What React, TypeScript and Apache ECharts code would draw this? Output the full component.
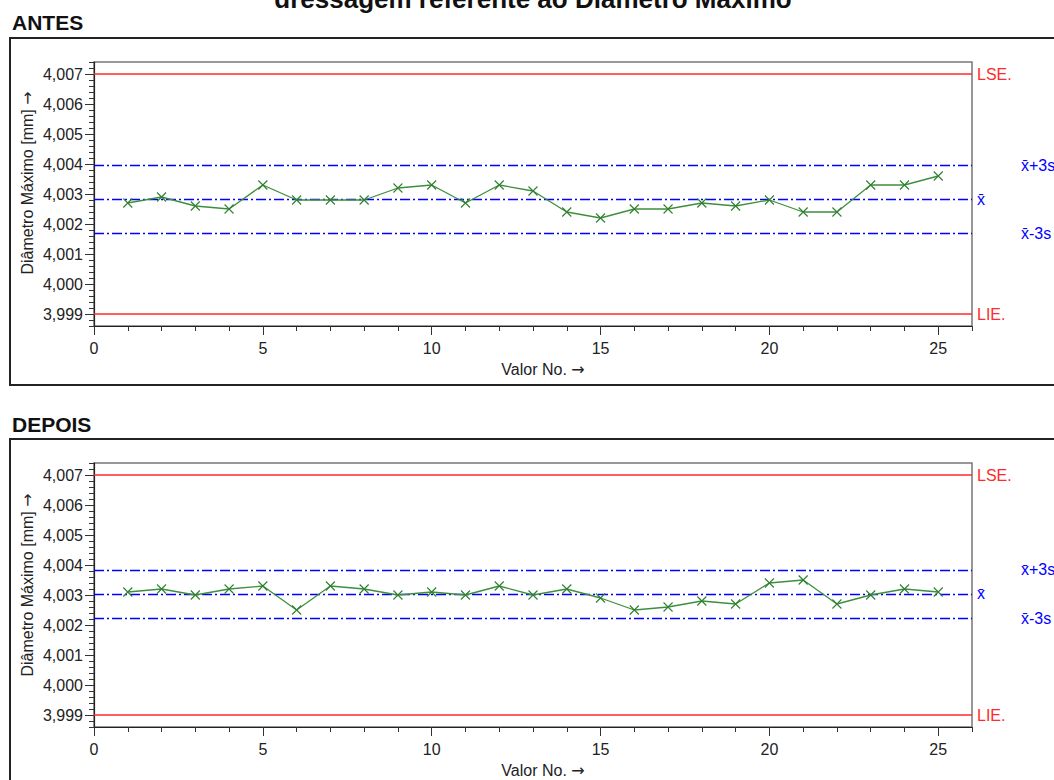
import React, { useEffect, useRef } from "react";
import * as echarts from "echarts";

const valorNo = [1, 2, 3, 4, 5, 6, 7, 8, 9, 10, 11, 12, 13, 14, 15, 16, 17, 18, 19, 20, 21, 22, 23, 24, 25];
const antes = [4.0027, 4.0029, 4.0026, 4.0025, 4.0033, 4.0028, 4.0028, 4.0028, 4.0032, 4.0033, 4.0027, 4.0033, 4.0031, 4.0024, 4.0022, 4.0025, 4.0025, 4.0027, 4.0026, 4.0028, 4.0024, 4.0024, 4.0033, 4.0033, 4.0036];
const depois = [4.0031, 4.0032, 4.0030, 4.0032, 4.0033, 4.0025, 4.0033, 4.0032, 4.0030, 4.0031, 4.0030, 4.0033, 4.0030, 4.0032, 4.0029, 4.0025, 4.0026, 4.0028, 4.0027, 4.0034, 4.0035, 4.0027, 4.0030, 4.0032, 4.0031];
const LSE = 4.007;
const LIE = 3.999;
const antesLimits = { mean: 4.00282, ucl: 4.00395, lcl: 4.00169 };
const depoisLimits = { mean: 4.00304, ucl: 4.00384, lcl: 4.00222 };
const yLabelValues = [3.999, 4.0, 4.001, 4.002, 4.003, 4.004, 4.005, 4.006, 4.007];
const xLabelValues = [0, 5, 10, 15, 20, 25];

const FONT = "'Liberation Sans', Arial, sans-serif";
const RED = "#ff2a2a";
const BLUE = "#0000ff";
const GREEN = "#3d8f3d";

function buildPanel(gi: number, values: number[], lim: { mean: number; ucl: number; lcl: number }) {
  const xA = gi * 2;
  const yA = gi * 2;
  const lbl = (text: string, color: string, distance: number) => ({
    show: true,
    position: "end",
    formatter: text,
    color,
    fontSize: 16,
    fontFamily: FONT,
    distance,
  });
  return {
    type: "line",
    xAxisIndex: xA,
    yAxisIndex: yA,
    data: valorNo.map((x, i) => [x, values[i]]),
    symbol: "path://M0,0L10,10M0,10L10,0",
    symbolSize: 9,
    showSymbol: true,
    itemStyle: { color: "transparent", borderColor: "#2f7f2f", borderWidth: 1.1 },
    lineStyle: { color: GREEN, width: 1.3 },
    z: 5,
    markLine: {
      silent: true,
      symbol: "none",
      precision: 6,
      animation: false,
      data: [
        { yAxis: LSE, lineStyle: { color: RED, width: 1.5, type: "solid" }, label: lbl("LSE.", RED, 5) },
        { yAxis: LIE, lineStyle: { color: RED, width: 1.5, type: "solid" }, label: lbl("LIE.", RED, 5) },
        { yAxis: lim.ucl, lineStyle: { color: BLUE, width: 1.3, type: [10, 3, 2, 3] }, label: lbl("x̄+3s", BLUE, 49) },
        { yAxis: lim.mean, lineStyle: { color: BLUE, width: 1.3, type: [10, 3, 2, 3] }, label: lbl("x̄", BLUE, 5) },
        { yAxis: lim.lcl, lineStyle: { color: BLUE, width: 1.3, type: [10, 3, 2, 3] }, label: lbl("x̄-3s", BLUE, 49) },
      ],
    },
  };
}

function yAxes(gi: number) {
  const base = { type: "value", gridIndex: gi, min: 3.9986, max: 4.0074, position: "left", splitLine: { show: false } };
  return [
    {
      ...base,
      interval: 0.0002,
      axisLine: { show: true, lineStyle: { color: "#222", width: 1.2 } },
      axisTick: { show: true, length: 5, inside: false, lineStyle: { color: "#333" } },
      axisLabel: {
        show: true,
        customValues: yLabelValues,
        margin: 11,
        color: "#222",
        fontSize: 16,
        fontFamily: FONT,
        formatter: (v: number) => v.toFixed(3).replace(".", ","),
      },
    },
    {
      ...base,
      interval: 0.0002,
      axisLine: { show: false },
      axisTick: { show: true, length: 9, customValues: yLabelValues, lineStyle: { color: "#333" } },
      axisLabel: { show: false },
    },
  ];
}

function xAxes(gi: number) {
  const base = { type: "value", gridIndex: gi, min: 0, max: 26, interval: 1, position: "bottom", splitLine: { show: false } };
  return [
    {
      ...base,
      axisLine: { show: true, onZero: false, lineStyle: { color: "#222", width: 1.2 } },
      axisTick: { show: true, length: 5, lineStyle: { color: "#333" } },
      axisLabel: {
        show: true,
        customValues: xLabelValues,
        margin: 14,
        color: "#222",
        fontSize: 16,
        fontFamily: FONT,
      },
    },
    {
      ...base,
      axisLine: { show: false, onZero: false },
      axisTick: { show: true, length: 9, customValues: xLabelValues, lineStyle: { color: "#333" } },
      axisLabel: { show: false },
    },
  ];
}

const arrowRich = {
  t: { fontSize: 16, fontFamily: FONT, fill: "#222", color: "#222" },
  a: { fontSize: 16, fontFamily: "'DejaVu Sans', sans-serif", fill: "#222", color: "#222" },
};

export default function App() {
  const ref = useRef<HTMLDivElement>(null);
  useEffect(() => {
    if (!ref.current) return;
    const chart = echarts.init(ref.current, undefined, { renderer: "svg" });
    const txt = (text: string, x: number, y: number, size: number, bold: boolean, extra: any = {}) => ({
      type: "text",
      x,
      y,
      ...extra,
      style: {
        text,
        fontSize: size,
        fontWeight: bold ? "bold" : "normal",
        fontFamily: FONT,
        fill: "#111",
        textAlign: extra.align || "left",
        textVerticalAlign: "middle",
      },
    });
    const yName = (y: number) => ({
      type: "text",
      x: 27,
      y,
      rotation: Math.PI / 2,
      style: {
        text: "{t|Diâmetro Máximo [mm] }{a|→}",
        rich: arrowRich,
        fontSize: 16,
        fontFamily: FONT,
        fill: "#222",
        textAlign: "center",
        textVerticalAlign: "middle",
      },
    });
    const xName = (y: number) => ({
      type: "text",
      x: 543,
      y,
      style: {
        text: "{t|Valor No. }{a|→}",
        rich: arrowRich,
        fontSize: 16,
        fontFamily: FONT,
        fill: "#222",
        textAlign: "center",
        textVerticalAlign: "middle",
      },
    });
    chart.setOption({
      animation: false,
      backgroundColor: "#ffffff",
      grid: [
        { left: 94, top: 62, width: 878, height: 264, show: true, borderColor: "#777", borderWidth: 1.5, backgroundColor: "transparent" },
        { left: 94, top: 463, width: 878, height: 264, show: true, borderColor: "#777", borderWidth: 1.5, backgroundColor: "transparent" },
      ],
      xAxis: [...xAxes(0), ...xAxes(1)],
      yAxis: [...yAxes(0), ...yAxes(1)],
      series: [buildPanel(0, antes, antesLimits), buildPanel(1, depois, depoisLimits)],
      graphic: [
        { type: "rect", shape: { x: 10, y: 38, width: 1070, height: 347 }, style: { fill: "none", stroke: "#222", lineWidth: 2 }, z: -1 },
        { type: "rect", shape: { x: 10, y: 439, width: 1070, height: 360 }, style: { fill: "none", stroke: "#222", lineWidth: 2 }, z: -1 },
        txt("dressagem referente ao Diâmetro Máximo", 533, -1, 26, true, { align: "center" }),
        txt("ANTES", 12, 22.5, 21, true),
        txt("DEPOIS", 12, 424.5, 21, true),
        yName(183),
        yName(585),
        xName(369),
        xName(770),
      ],
    });
    return () => chart.dispose();
  }, []);
  return <div ref={ref} style={{ position: "fixed", left: 0, top: 0, width: 1054, height: 780 }} />;
}
